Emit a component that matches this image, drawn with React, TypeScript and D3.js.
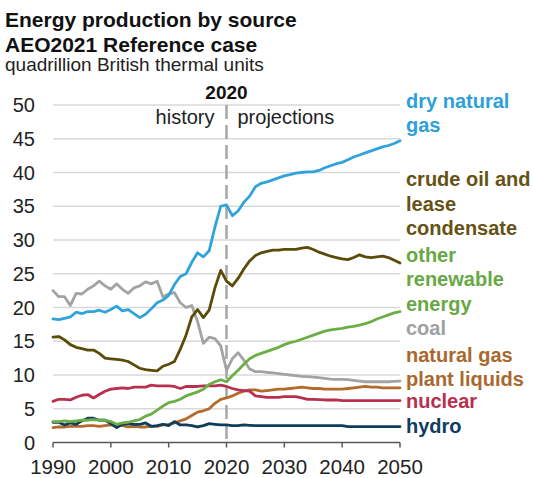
import { useMemo } from 'react';
import * as d3 from 'd3';

// annual values, 1990-2050, quadrillion Btu
const startYear = 1990;
const endYear = 2050;
const years = d3.range(startYear, endYear + 1);

const dryNaturalGas = [
  18.3, 18.2, 18.4, 18.6, 19.3, 19.1, 19.4, 19.4, 19.6, 19.3,
  19.7, 20.2, 19.5, 19.7, 19.1, 18.5, 19.0, 19.8, 20.7, 21.1,
  21.8, 23.4, 24.6, 25.0, 26.7, 28.1, 27.5, 28.4, 31.9, 35.0,
  35.2, 33.6, 34.3, 35.6, 36.5, 37.9, 38.4, 38.6, 38.9, 39.2,
  39.5, 39.7, 39.9, 40.0, 40.1, 40.1, 40.3, 40.7, 41.0, 41.3,
  41.5, 41.9, 42.3, 42.6, 42.9, 43.2, 43.5, 43.8, 44.0, 44.3,
  44.7,
];
const crudeOil = [
  15.6, 15.7, 15.2, 14.5, 14.1, 13.9, 13.7, 13.7, 13.2, 12.5,
  12.4, 12.3, 12.2, 12.0, 11.5, 11.0, 10.8, 10.7, 10.6, 11.3,
  11.6, 12.0, 13.8, 15.9, 18.6, 19.7, 18.5, 19.6, 22.9, 25.5,
  23.9, 23.2, 24.3, 25.7, 26.9, 27.7, 28.1, 28.3, 28.5, 28.5,
  28.6, 28.6, 28.6, 28.8, 28.9, 28.6, 28.2, 27.9, 27.6, 27.4,
  27.2, 27.1, 27.4, 27.8, 27.5, 27.4, 27.5, 27.6, 27.4, 27.0,
  26.6,
];
const otherRenewable = [
  3.1, 3.1, 3.2, 3.1, 3.2, 3.3, 3.3, 3.4, 3.3, 3.3,
  3.1, 2.7, 2.9, 3.0, 3.2, 3.4, 3.9, 4.2, 4.8, 5.4,
  5.9, 6.1, 6.4, 6.9, 7.2, 7.5, 7.9, 8.6, 9.0, 9.3,
  9.0, 9.9, 10.7, 11.6, 12.4, 12.9, 13.2, 13.5, 13.8, 14.1,
  14.5, 14.8, 15.0, 15.3, 15.6, 15.9, 16.2, 16.5, 16.7, 16.8,
  16.9, 17.1, 17.2, 17.4, 17.6, 17.9, 18.3, 18.6, 18.9, 19.2,
  19.4,
];
const coal = [
  22.5, 21.6, 21.6, 20.3, 22.1, 22.0, 22.7, 23.2, 23.9, 23.2,
  22.7, 23.5, 22.7, 22.1, 22.9, 23.2, 23.8, 23.5, 23.9, 21.6,
  22.0, 22.2, 20.7, 20.0, 20.3, 17.9, 14.7, 15.6, 15.4, 14.3,
  10.7, 12.4, 13.3, 12.2, 10.9, 10.5, 10.5, 10.4, 10.3, 10.2,
  10.1, 10.0, 9.9, 9.8, 9.75, 9.7, 9.6, 9.5, 9.4, 9.35,
  9.35, 9.3, 9.2, 9.1, 9.0, 9.0, 9.0, 9.0, 9.0, 9.05,
  9.1,
];
const naturalGasPlantLiquids = [
  2.2, 2.3, 2.3, 2.4, 2.4, 2.4, 2.5, 2.5, 2.4, 2.5,
  2.6, 2.5, 2.5, 2.3, 2.4, 2.3, 2.3, 2.4, 2.4, 2.6,
  2.7, 2.9, 3.2, 3.5, 4.0, 4.5, 4.7, 5.0, 5.8, 6.4,
  6.6, 6.9, 7.3, 7.6, 7.8, 7.8, 7.6, 7.7, 7.8, 7.9,
  7.9, 8.0, 8.1, 8.2, 8.1, 8.0, 8.0, 7.9, 7.9, 7.9,
  7.9, 8.0, 8.1, 8.2, 8.3, 8.2, 8.2, 8.1, 8.1, 8.1,
  8.1,
];
const nuclear = [
  6.1, 6.4, 6.4, 6.3, 6.7, 7.0, 7.1, 6.6, 7.1, 7.6,
  7.9, 8.0, 8.1, 8.0, 8.2, 8.2, 8.2, 8.5, 8.4, 8.4,
  8.4, 8.3, 8.0, 8.3, 8.3, 8.3, 8.4, 8.4, 8.4, 8.5,
  8.3, 8.0, 7.8, 7.7, 7.6, 6.9, 6.8, 6.7, 6.7, 6.7,
  6.8, 6.8, 6.8, 6.6, 6.4, 6.4, 6.35, 6.3, 6.3, 6.3,
  6.2, 6.2, 6.2, 6.2, 6.2, 6.2, 6.2, 6.2, 6.2, 6.2,
  6.2,
];
const hydro = [
  3.0, 3.0, 2.6, 2.9, 2.7, 3.2, 3.6, 3.6, 3.3, 3.3,
  2.8, 2.2, 2.7, 2.8, 2.7, 2.7, 2.9, 2.4, 2.5, 2.7,
  2.5, 3.1, 2.6, 2.6, 2.5, 2.3, 2.5, 2.8, 2.7, 2.6,
  2.6, 2.5, 2.5, 2.6, 2.55, 2.5, 2.5, 2.5, 2.5, 2.5,
  2.5, 2.5, 2.5, 2.5, 2.5, 2.5, 2.5, 2.5, 2.5, 2.5,
  2.5, 2.35, 2.35, 2.35, 2.35, 2.35, 2.35, 2.35, 2.35, 2.35,
  2.35,
];

const yTicks = [0, 5, 10, 15, 20, 25, 30, 35, 40, 45, 50];
const xTicks = [1990, 2000, 2010, 2020, 2030, 2040, 2050];
const dividerYear = 2020;

// drawing order: back to front
const series = [
  { key: 'coal', values: coal, color: '#a3a3a3' },
  { key: 'ngpl', values: naturalGasPlantLiquids, color: '#b36a2a' },
  { key: 'nuclear', values: nuclear, color: '#b8304e' },
  { key: 'hydro', values: hydro, color: '#0f3d5c' },
  { key: 'renewable', values: otherRenewable, color: '#6aae45' },
  { key: 'crude', values: crudeOil, color: '#5a4b08' },
  { key: 'gas', values: dryNaturalGas, color: '#2fa4dc' },
];

// right-side labels, anchored at a value on the y scale (first line baseline)
const labels = [
  { lines: ['dry natural', 'gas'], at: 49.6, color: '#2e9fd8' },
  { lines: ['crude oil and', 'lease', 'condensate'], at: 38.0, color: '#665214' },
  { lines: ['other', 'renewable', 'energy'], at: 26.8, color: '#68a844' },
  { lines: ['coal'], at: 16.0, color: '#a0a0a0' },
  { lines: ['natural gas', 'plant liquids'], at: 12.0, color: '#a8682e' },
  { lines: ['nuclear'], at: 5.1, color: '#b8304e' },
  { lines: ['hydro'], at: 1.4, color: '#0f3d5c' },
];

const W = 533;
const H = 478;
const margin = { left: 53, right: 133, top: 105, bottom: 35.5 };
const font = "'Liberation Sans', Arial, Helvetica, sans-serif";

export default function App() {
  const x = useMemo(
    () => d3.scaleLinear().domain([startYear, endYear]).range([margin.left, W - margin.right]),
    [],
  );
  const y = useMemo(
    () => d3.scaleLinear().domain([0, 50]).range([H - margin.bottom, margin.top]),
    [],
  );
  const line = d3
    .line<number>()
    .x((_d, i) => x(years[i]))
    .y((d) => y(d));

  const x0 = x(startYear);
  const x1 = x(endYear);
  const xd = x(dividerYear);

  return (
    <svg
      width={W}
      height={H}
      viewBox={`0 0 ${W} ${H}`}
      style={{ position: 'absolute', left: 0, top: 0, background: '#fff' }}
      fontFamily={font}
    >
      <text x={5} y={27} fontSize={21} fontWeight="bold" fill="#111">
        Energy production by source
      </text>
      <text x={5} y={52} fontSize={21} fontWeight="bold" fill="#111">
        AEO2021 Reference case
      </text>
      <text x={5} y={71} fontSize={19} fill="#222">
        quadrillion British thermal units
      </text>

      {yTicks.slice(1).map((t) => (
        <line key={t} x1={x0} x2={x1} y1={y(t)} y2={y(t)} stroke="#d9d9d9" strokeWidth={1.5} />
      ))}
      {yTicks.map((t) => (
        <text key={t} x={35} y={y(t)} dy="0.35em" textAnchor="end" fontSize={20} fill="#222">
          {t}
        </text>
      ))}

      <line
        x1={xd}
        x2={xd}
        y1={y(50)}
        y2={y(0)}
        stroke="#a6a6a6"
        strokeWidth={2.5}
        strokeDasharray="14 6"
      />
      <text x={xd} y={99} textAnchor="middle" fontSize={19} fontWeight="bold" fill="#111">
        2020
      </text>
      <text x={xd - 12} y={124} textAnchor="end" fontSize={20} fill="#222">
        history
      </text>
      <text x={xd + 11} y={124} fontSize={20} fill="#222">
        projections
      </text>

      {series.map((s) => (
        <path
          key={s.key}
          d={line(s.values) ?? ''}
          fill="none"
          stroke={s.color}
          strokeWidth={2.8}
          strokeLinejoin="round"
          strokeLinecap="round"
        />
      ))}

      <line x1={x0} x2={x1} y1={y(0)} y2={y(0)} stroke="#595959" strokeWidth={1.5} />
      {xTicks.map((t) => (
        <g key={t}>
          <line x1={x(t)} x2={x(t)} y1={y(0)} y2={y(0) + 5} stroke="#595959" strokeWidth={1.5} />
          <text x={x(t)} y={474} textAnchor="middle" fontSize={20.5} fill="#222">
            {t}
          </text>
        </g>
      ))}

      {labels.map((l) => (
        <text key={l.lines[0]} x={406} y={y(l.at)} fontSize={20} fontWeight="bold" fill={l.color}>
          {l.lines.map((ln, i) => (
            <tspan key={ln} x={406} dy={i === 0 ? 0 : 24.5}>
              {ln}
            </tspan>
          ))}
        </text>
      ))}
    </svg>
  );
}
